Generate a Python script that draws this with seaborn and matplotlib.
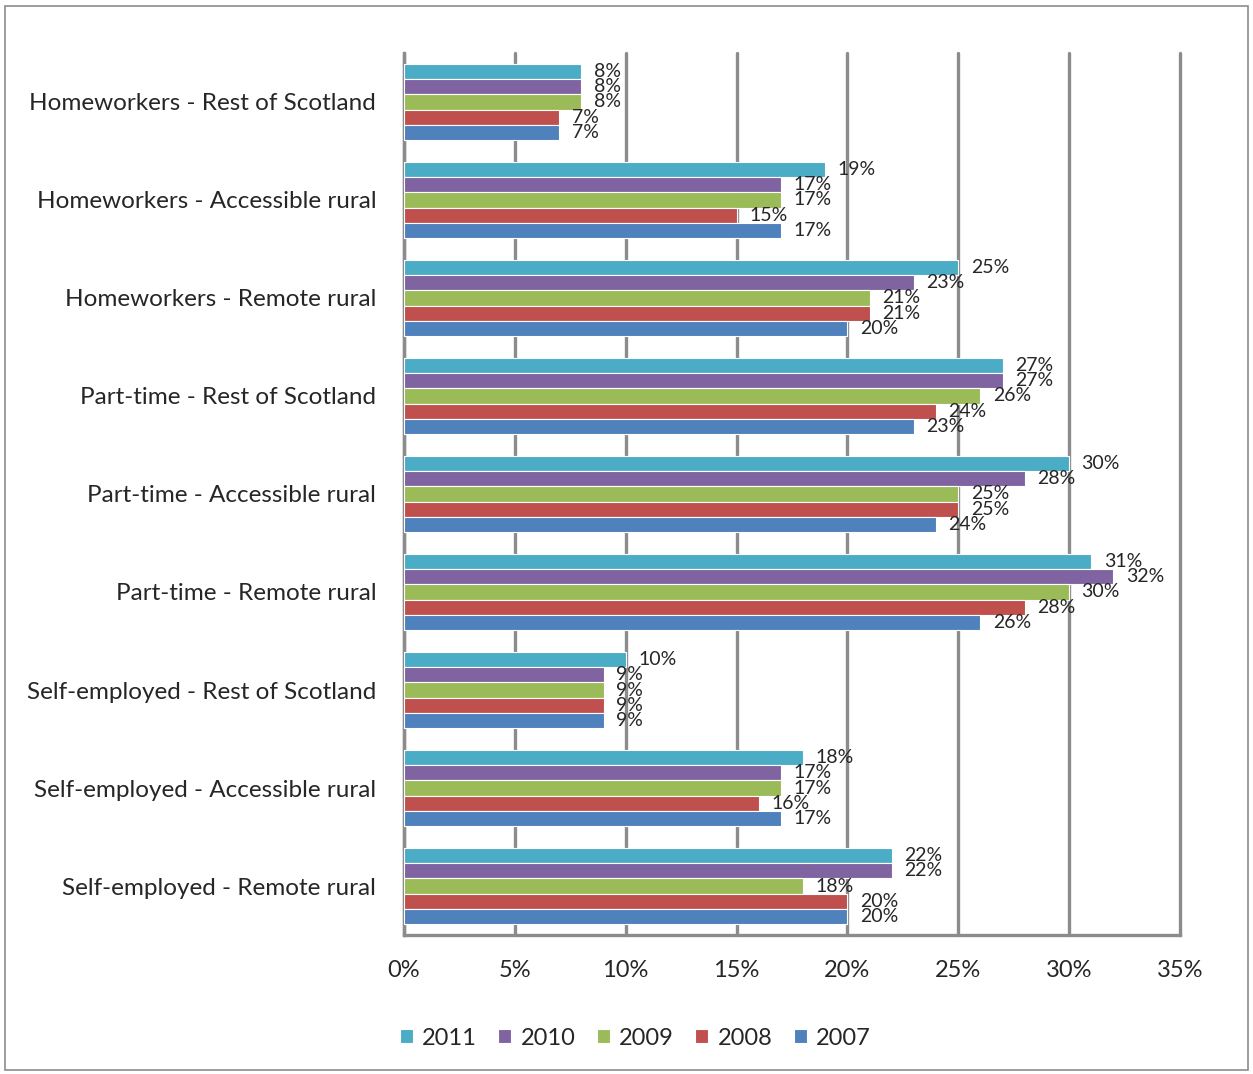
import numpy as np
import pandas as pd
import matplotlib
matplotlib.use('Agg')
import matplotlib.pyplot as plt
import seaborn as sns
from matplotlib.ticker import PercentFormatter, FixedLocator
from matplotlib.patches import Rectangle


categories = ['Homeworkers - Rest of Scotland', 'Homeworkers - Accessible rural', 'Homeworkers - Remote rural',
              'Part-time - Rest of Scotland', 'Part-time - Accessible rural', 'Part-time - Remote rural',
              'Self-employed - Rest of Scotland', 'Self-employed - Accessible rural', 'Self-employed - Remote rural']
years = ['2011', '2010', '2009', '2008', '2007']

v2011 = [8, 19, 25, 27, 30, 31, 10, 18, 22]
v2010 = [8, 17, 23, 27, 28, 32, 9, 17, 22]
v2009 = [8, 17, 21, 26, 25, 30, 9, 17, 18]
v2008 = [7, 15, 21, 24, 25, 28, 9, 16, 20]
v2007 = [7, 17, 20, 23, 24, 26, 9, 17, 20]

colors = ['#4BACC6', '#8064A2', '#9BBB59', '#C0504D', '#4F81BD']

#long form table for seaborn
series = dict(zip(years, [v2011, v2010, v2009, v2008, v2007]))
df = pd.DataFrame([{'category': c, 'year': y, 'value': vals[i]}
                   for y, vals in series.items() for i, c in enumerate(categories)])

sns.set_style('white')
plt.rcParams['font.family'] = ['Lato', 'DejaVu Sans']

fig = plt.figure(figsize=(12.53, 10.74), dpi=100)
ax = fig.add_axes([0.3224, 0.1294, 0.9417 - 0.3224, 0.9507 - 0.1294])

sns.barplot(data=df, y='category', x='value', hue='year', order=categories, hue_order=years,
            palette=colors, orient='h', width=0.78, edgecolor='white', linewidth=0.8,
            saturation=1, ax=ax, zorder=3, legend=True)

for cont in ax.containers:
    ax.bar_label(cont, fmt='%d%%', padding=9, fontsize=14, zorder=4)

ax.set_xlim(0, 35)
ax.set_ylim(8.5, -0.5)
ax.xaxis.set_major_locator(FixedLocator(np.arange(0, 36, 5)))
ax.xaxis.set_major_formatter(PercentFormatter(decimals=0))
ax.grid(axis='x', color='#8c8c8c', linewidth=2.4, zorder=0)
ax.grid(axis='y', visible=False)
for line in ax.get_xgridlines():
    line.set_clip_on(False)

ax.set_xlabel('')
ax.set_ylabel('')

for side in ['top', 'right']:
    ax.spines[side].set_visible(False)
for side in ['left', 'bottom']:
    ax.spines[side].set_color('#8c8c8c')
    ax.spines[side].set_linewidth(2.4)

ax.tick_params(axis='x', which='major', length=6, width=2, color='#8c8c8c', pad=12, labelsize=17)
ax.tick_params(axis='y', which='major', length=0, pad=20, labelsize=17.5)
ax.yaxis.set_minor_locator(FixedLocator(np.arange(-0.5, 9, 1)))
ax.tick_params(axis='y', which='minor', length=7, width=2, color='#8c8c8c')

handles, labels = ax.get_legend_handles_labels()
ax.get_legend().remove()
fig.legend(handles, labels, loc='center', bbox_to_anchor=(0.507, 0.0335), ncol=5, frameon=False,
           fontsize=17, handlelength=0.55, handleheight=0.55, columnspacing=0.9, handletextpad=0.4)

fig.patches.append(Rectangle((0.004, 0.004), 0.992, 0.99, transform=fig.transFigure,
                             fill=False, edgecolor='#8c8c8c', linewidth=1.2))

plt.savefig('out.png', dpi=100)
